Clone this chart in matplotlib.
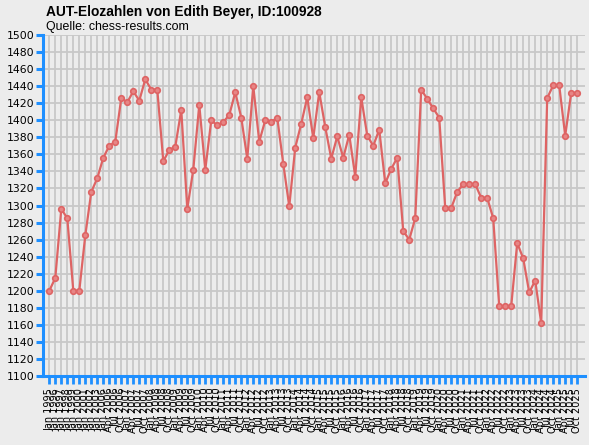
import matplotlib
matplotlib.use("Agg")
import matplotlib.pyplot as plt

title = "AUT-Elozahlen von Edith Beyer, ID:100928"
subtitle = "Quelle: chess-results.com"

# x labels: yearly lists first, then quarterly lists
months = ["Jan", "Apr", "Jul", "Oct"]
dates = [f"Jan {y}" for y in range(1995, 2004)]
dates += [f"{m} {y}" for y in range(2006, 2026) for m in months]

ratings = [1200, 1215, 1296, 1285, 1200, 1200, 1265, 1316, 1332, 1356,
           1370, 1375, 1426, 1421, 1434, 1423, 1448, 1436, 1436, 1352,
           1365, 1369, 1412, 1296, 1342, 1418, 1342, 1400, 1394, 1398,
           1406, 1433, 1403, 1355, 1440, 1375, 1400, 1398, 1403, 1349,
           1299, 1368, 1396, 1427, 1379, 1433, 1392, 1355, 1381, 1356,
           1383, 1334, 1427, 1382, 1370, 1389, 1326, 1343, 1356, 1270,
           1260, 1285, 1436, 1425, 1414, 1403, 1297, 1297, 1316, 1325,
           1325, 1325, 1309, 1309, 1285, 1182, 1182, 1182, 1256, 1238,
           1198, 1212, 1162, 1426, 1441, 1441, 1382, 1432, 1432]

y_ticks = list(range(1100, 1501, 20))

W, H = 589, 445
bg = "#ECECEC"
blue = "#1E8FFF"
line_col = "#DE6464"

fig = plt.figure(figsize=(W / 100, H / 100), dpi=100, facecolor=bg)
ax = fig.add_axes([43 / W, (H - 376) / H, (585 - 43) / W, (376 - 35) / H])
ax.set_facecolor(bg)

x = list(range(len(ratings)))
ax.plot(x, ratings, color=line_col, lw=1.6, marker="o", markersize=4.0,
        markerfacecolor="#E78585", markeredgecolor=line_col,
        markeredgewidth=1.2, zorder=3, clip_on=False)

ax.set_xlim(-1.05, 89.3)
ax.set_ylim(1100, 1500)
ax.set_yticks(y_ticks)
ax.set_xticks(x)
ax.set_xticklabels(dates, rotation=90, fontsize=7.0, family="DejaVu Sans",
                   va="top", ha="center")
ax.set_yticklabels([str(v) for v in y_ticks], fontsize=7.8,
                   family="DejaVu Sans")

ax.grid(True, color="#C8C8C8", lw=1.3, zorder=0)
ax.set_axisbelow(True)

for s in ("top", "right"):
    ax.spines[s].set_visible(False)
for s in ("left", "bottom"):
    ax.spines[s].set_color(blue)
    ax.spines[s].set_linewidth(2.2)

ax.tick_params(axis="y", colors=blue, length=5, width=2.2, labelcolor="black", pad=1)
ax.tick_params(axis="x", colors=blue, length=5.5, width=2.0, labelcolor="black", pad=3)

fig.text(46 / W, 1 - 12 / H, title, fontsize=9.9, fontweight="bold",
         family="Liberation Sans", va="center", ha="left")
fig.text(46 / W, 1 - 27 / H, subtitle, fontsize=8.9,
         family="Liberation Sans", va="center", ha="left")

fig.savefig("out.png", dpi=100, facecolor=bg)
